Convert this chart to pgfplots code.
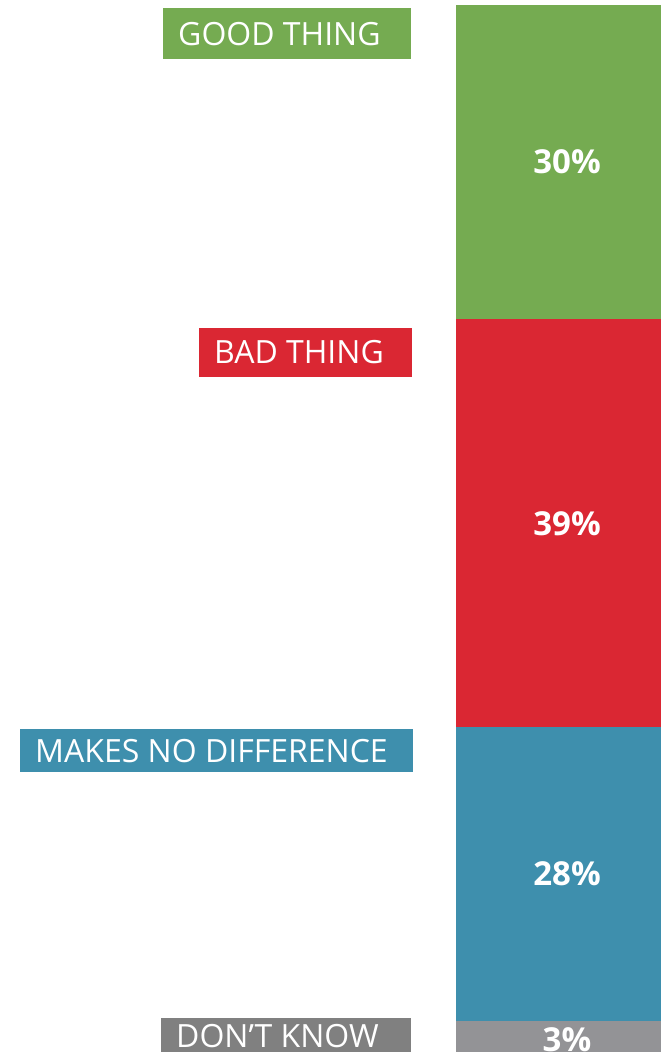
\documentclass[border=0pt]{standalone}
\usepackage{fontspec}
\setmainfont{Open Sans}
\usepackage{pgfplots}
\pgfplotsset{compat=1.18}
\definecolor{cgreen}{HTML}{75AB51}
\definecolor{cred}{HTML}{DA2733}
\definecolor{cblue}{HTML}{3E8FAD}
\definecolor{cgraybar}{HTML}{939396}
\definecolor{cgraybox}{HTML}{808080}
\begin{document}
\begin{tikzpicture}
\begin{axis}[
  name=ax,
  width=661pt, height=1052pt, scale only axis,
  xmin=0, xmax=661, ymin=-0.4776, ymax=100,
  y dir=reverse,
  hide axis,
  ybar stacked, bar width=205,
  clip=false,
]
\addplot[fill=cgreen, draw=none] coordinates {(558.5,30)};
\addplot[fill=cred, draw=none] coordinates {(558.5,39)};
\addplot[fill=cblue, draw=none] coordinates {(558.5,28)};
\addplot[fill=cgraybar, draw=none] coordinates {(558.5,3)};
\coordinate (p1) at (axis cs:567,15);
\coordinate (p2) at (axis cs:567,49.5);
\coordinate (p3) at (axis cs:567,83);
\coordinate (p4) at (axis cs:567,98.8);
\coordinate (l1) at (axis cs:163,0.286);
\coordinate (l2) at (axis cs:199,30.80);
\coordinate (l3) at (axis cs:20,69.15);
\coordinate (l4) at (axis cs:161,96.75);
\end{axis}
\tikzset{pct/.style={text=white, font=\fontsize{33}{38}\selectfont\bfseries, text height=23.8pt, text depth=0pt, inner sep=0pt, anchor=center},
lab/.style={anchor=north west, text=white, font=\fontsize{32}{36}\selectfont, inner xsep=0pt, text height=22.9pt, text depth=0pt}}
\node[pct] at (p1) {30\%};
\node[pct] at (p2) {39\%};
\node[pct] at (p3) {28\%};
\node[pct] at (p4) {3\%};
\node[lab, fill=cgreen, inner ysep=14.05pt] at (l1) {\makebox[248pt][l]{\hspace{15pt}GOOD THING}};
\node[lab, fill=cred, inner ysep=13.05pt] at (l2) {\makebox[212.5pt][l]{\hspace{15pt}BAD THING}};
\node[lab, fill=cblue, inner ysep=10.05pt] at (l3) {\makebox[393pt][l]{\hspace{15pt}MAKES NO DIFFERENCE}};
\node[lab, fill=cgraybox, inner ysep=6.55pt] at (l4) {\makebox[250pt][l]{\hspace{15pt}DON’T KNOW}};
\pgfresetboundingbox
\useasboundingbox (ax.south west) rectangle (ax.north east);
\end{tikzpicture}
\end{document}
